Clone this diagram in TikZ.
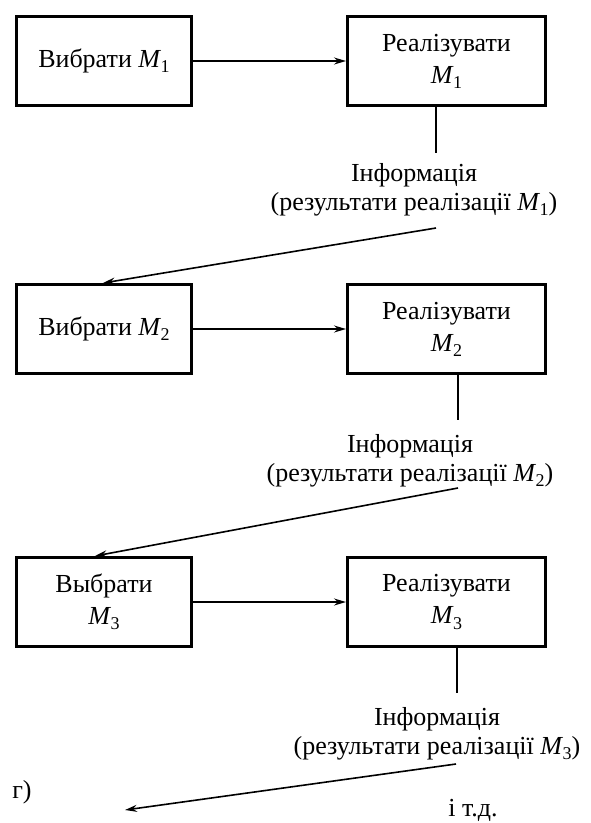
\documentclass[tikz,border=0pt]{standalone}
\usepackage{fontspec}
\setmainfont{Liberation Serif}
\usetikzlibrary{arrows.meta}
\newcommand{\Msub}[1]{\textit{M}\kern-0.5pt\raisebox{-0.2em}{\fontsize{18}{18}\selectfont #1}}
\begin{document}
\begin{tikzpicture}[x=1pt,y=-1pt,font=\fontsize{26}{32}\selectfont,
  box/.style={draw,line width=3pt,inner sep=0pt,minimum width=175pt,minimum height=89pt,align=center},
  rbox/.style={box,minimum width=198pt},
  arr/.style={line width=1.6pt,-{Stealth[length=12pt,width=7pt,inset=4pt]}},
  ln/.style={line width=1.6pt},
  info/.style={align=center,inner sep=0pt,font=\fontsize{26}{29}\selectfont},
  lbl/.style={inner sep=0pt}]
\useasboundingbox (0,0) rectangle (591,823);
% row 1
\node[box]  (L1) at (104,61)    {Вибрати \Msub{1}};
\node[rbox] (R1) at (446.5,61)  {Реалізувати\\\Msub{1}};
\node[info] (I1) at (414,190)   {Інформація\\(результати реалізації \Msub{1})};
% row 2
\node[box]  (L2) at (104,329)   {Вибрати \Msub{2}};
\node[rbox] (R2) at (446.5,329) {Реалізувати\\\Msub{2}};
\node[info] (I2) at (410,461)   {Інформація\\(результати реалізації \Msub{2})};
% row 3
\node[box]  (L3) at (104,602)   {Выбрати\\\Msub{3}};
\node[rbox] (R3) at (446.5,602) {Реалізувати\\\Msub{3}};
\node[info] (I3) at (437,734)   {Інформація\\(результати реалізації \Msub{3})};
% labels
\node[lbl] (g) at (22,792) {г)};
\node[lbl] (etc) at (473,810) {і т.д.};
% coordinates
\coordinate (v1) at (436,153);
\coordinate (v2) at (458,420);
\coordinate (v3) at (457,693);
\coordinate (a1s) at (436,228);
\coordinate (a1e) at (103,0);
\coordinate (a2s) at (458,488);
\coordinate (a2e) at (95,0);
\coordinate (a3s) at (456,764);
\coordinate (a3e) at (125,810);
% connectors
\draw[arr] (L1) -- (R1);
\draw[arr] (L2) -- (R2);
\draw[arr] (L3) -- (R3);
\draw[ln] (v1 |- R1.south) -- (v1);
\draw[ln] (v2 |- R2.south) -- (v2);
\draw[ln] (v3 |- R3.south) -- (v3);
\draw[arr] (a1s) -- (L2.north -| a1e);
\draw[arr] (a2s) -- (L3.north -| a2e);
\draw[arr] (a3s) -- (a3e);
\end{tikzpicture}
\end{document}
